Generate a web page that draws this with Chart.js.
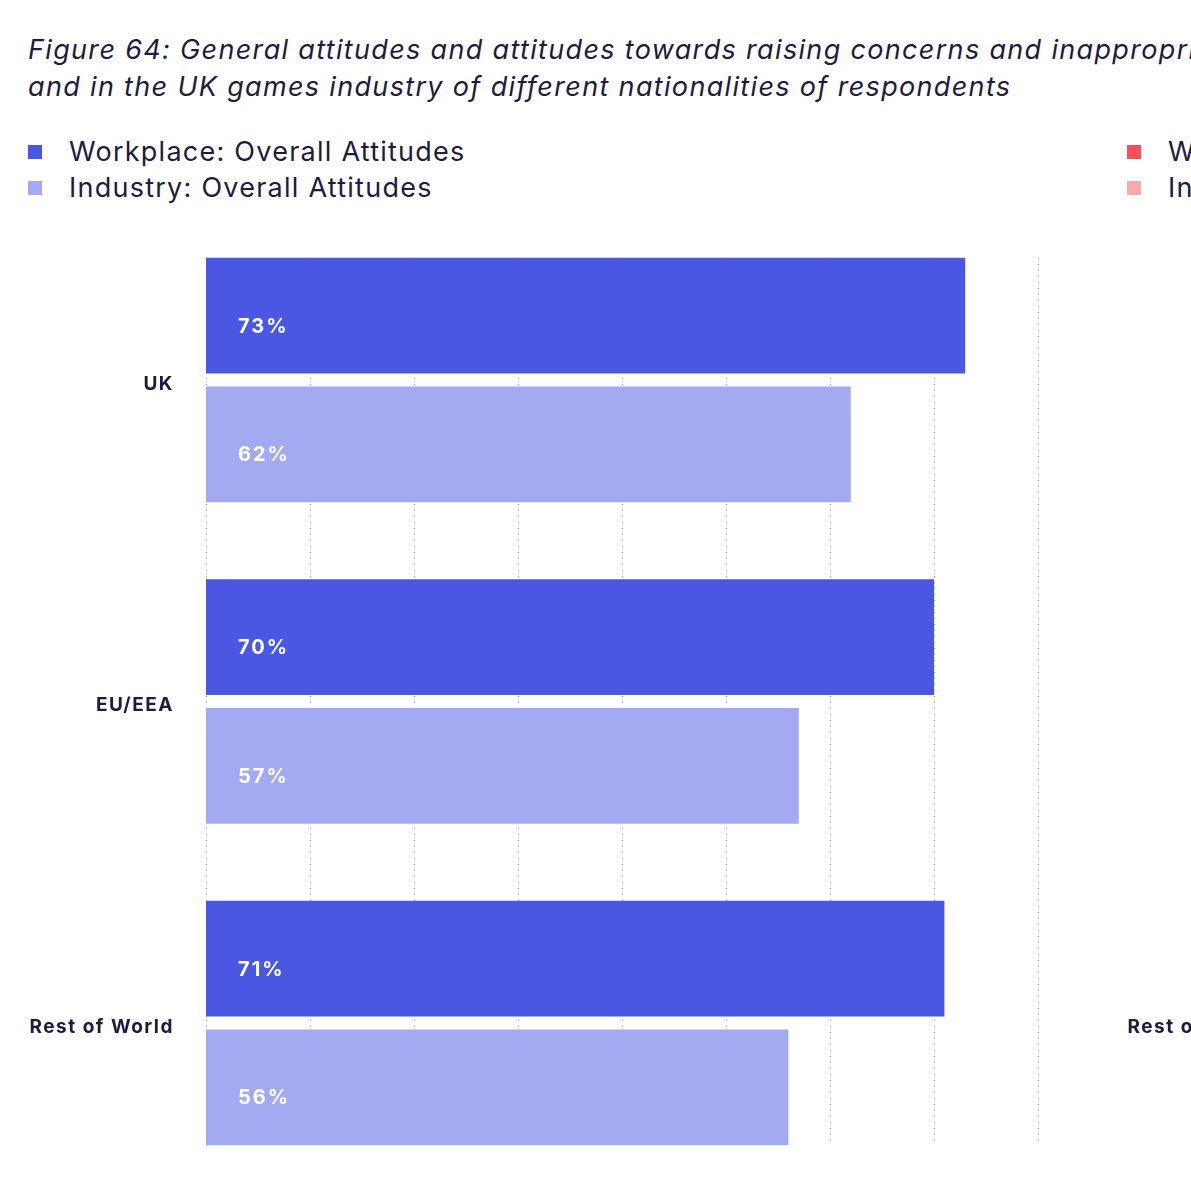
<!DOCTYPE html>
<html>
<head>
<meta charset="utf-8">
<script src="https://cdn.jsdelivr.net/npm/chart.js@4.4.1/dist/chart.umd.min.js"></script>
<style>
  html, body { margin: 0; padding: 0; background: #fff; }
  body { width: 1191px; height: 1182px; overflow: hidden; position: relative; font-family: Inter, sans-serif; color: #1d1b40; }
  #figure { position: absolute; left: 0; top: 0; width: 2300px; height: 1200px; }
  .title { position: absolute; left: 28px; top: 31px; font-size: 27px; line-height: 37px; font-style: italic; letter-spacing: 1.33px; white-space: nowrap; }
  .legend { position: absolute; top: 134px; font-size: 27px; line-height: 36px; letter-spacing: 1.25px; white-space: nowrap; }
  .legend div { position: relative; padding-left: 41px; }
  .legend span { position: absolute; left: 0; top: 11px; width: 14px; height: 14px; }
  .panel { position: absolute; top: 210px; width: 1098px; height: 984px; }
  .panel canvas { display: block; }
</style>
</head>
<body>
<div id="figure">
  <div class="title">Figure 64: General attitudes and attitudes towards raising concerns and inappropriate behaviour in the workplace<br>and in the UK games industry of different nationalities of respondents</div>
  <div class="legend" id="legendLeft" style="left:28px"></div>
  <div class="legend" id="legendRight" style="left:1127px"></div>
  <div class="panel" style="left:0"><canvas id="chartLeft" width="1098" height="984"></canvas></div>
  <div class="panel" style="left:1098px"><canvas id="chartRight" width="1098" height="984"></canvas></div>
</div>
<script>
// Data
const nationalities = ['UK', 'EU/EEA', 'Rest of World'];
const workplaceOverall = [73, 70, 71];
const industryOverall = [62, 57, 56];
const xTicks = [0, 10, 20, 30, 40, 50, 60, 70, 80];

// right-hand panel is cut off in the picture, only its labels show
const rightSeries = ['Workplace: Raising Concerns', 'Industry: Raising Concerns'];

const TEXT = '#1d1b40';

// the figure's font is wider than Inter, space the canvas text out a bit
const spacing = {
    id: 'spacing',
    beforeDraw(chart) { chart.ctx.letterSpacing = '1.5px'; }
};

// dotted vertical lines, only over the span of the bars
const dottedGrid = {
    id: 'dottedGrid',
    beforeDatasetsDraw(chart) {
        const metaA = chart.getDatasetMeta(0);
        const metaB = chart.getDatasetMeta(chart.data.datasets.length - 1);
        if (!metaA.data.length || !metaB.data.length) return;
        const first = metaA.data[0];
        const last = metaB.data[metaB.data.length - 1];
        const top = first.y - first.height / 2;
        const bottom = last.y + last.height / 2;
        const x = chart.scales.x;
        const ctx = chart.ctx;
        ctx.save();
        ctx.strokeStyle = '#9a9aa6';
        ctx.lineWidth = 1;
        ctx.setLineDash([1, 5]);
        xTicks.forEach(t => {
            const px = Math.round(x.getPixelForValue(t)) + 0.5;
            ctx.beginPath();
            ctx.moveTo(px, top);
            ctx.lineTo(px, bottom);
            ctx.stroke();
        });
        ctx.restore();
    }
};

// white value labels inside the bars
const valueLabels = {
    id: 'valueLabels',
    afterDatasetsDraw(chart) {
        const ctx = chart.ctx;
        ctx.save();
        ctx.fillStyle = '#ffffff';
        ctx.font = 'bold 20px Inter, sans-serif';
        ctx.letterSpacing = '2px';
        ctx.textBaseline = 'middle';
        ctx.textAlign = 'left';
        chart.data.datasets.forEach((ds, i) => {
            chart.getDatasetMeta(i).data.forEach((bar, j) => {
                ctx.fillText(ds.data[j] + '%', bar.base + 32, bar.y + 11);
            });
        });
        ctx.restore();
    }
};

function makeChart(id, datasets) {
    return new Chart(document.getElementById(id), {
        type: 'bar',
        data: { labels: nationalities, datasets: datasets },
        options: {
            indexAxis: 'y',
            responsive: false,
            animation: false,
            layout: { padding: { top: 9.25, bottom: 10.25, left: 0, right: 60 } },
            plugins: { legend: { display: false }, tooltip: { enabled: false } },
            scales: {
                x: { min: 0, max: 80, display: false },
                y: {
                    grid: { display: false, drawTicks: false },
                    border: { display: false },
                    ticks: {
                        color: TEXT,
                        padding: 32,
                        labelOffset: 4,
                        font: { family: 'Inter, sans-serif', size: 19, weight: 'bold' }
                    },
                    afterFit(scale) {
                        // fixed label column, and no extra room above/below for the labels
                        scale.width = 206;
                        scale.paddingTop = 0;
                        scale.paddingBottom = 0;
                    }
                }
            }
        },
        plugins: [spacing, dottedGrid, valueLabels]
    });
}

const left = makeChart('chartLeft', [
    { label: 'Workplace: Overall Attitudes', data: workplaceOverall, backgroundColor: '#4957e3' },
    { label: 'Industry: Overall Attitudes', data: industryOverall, backgroundColor: '#a3aaf1' }
]);

const right = makeChart('chartRight', [
    { label: rightSeries[0], data: [], backgroundColor: '#f6505f' },
    { label: rightSeries[1], data: [], backgroundColor: '#f8a9ae' }
]);

function buildLegend(chart, el) {
    el.innerHTML = chart.data.datasets.map(ds =>
        '<div><span style="background:' + ds.backgroundColor + '"></span>' + ds.label + '</div>'
    ).join('');
}
buildLegend(left, document.getElementById('legendLeft'));
buildLegend(right, document.getElementById('legendRight'));
</script>
</body>
</html>
